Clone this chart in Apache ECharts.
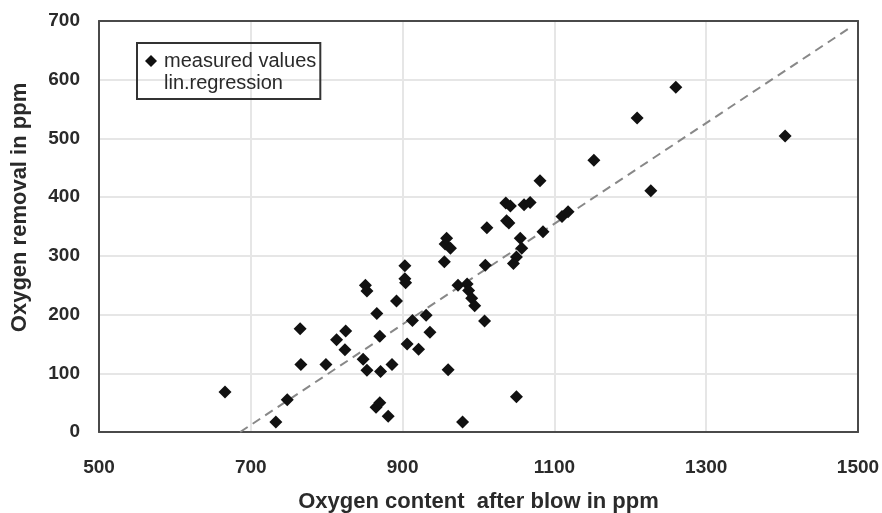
<!DOCTYPE html>
<html>
<head>
<meta charset="utf-8">
<script src="https://cdn.jsdelivr.net/npm/echarts@6/dist/echarts.min.js"></script>
<style>html,body{margin:0;padding:0;background:#fff}#c{width:882px;height:513px}</style>
</head>
<body>
<div id="c"></div>
<script>
const xName = 'Oxygen content  after blow in ppm';
const yName = 'Oxygen removal in ppm';
const seriesNames = ['measured values', 'lin.regression'];
const oxygenContent = [666,733,748,765,766,799,813,825,824,851,853,848,853,866,870,871,886,865,870,881,892,903,903,904,913,931,936,906,921,960,956,963,958,955,973,985,987,991,995,1008,979,1050,1009,1011,1036,1042,1060,1068,1037,1040,1055,1057,1050,1046,1081,1085,1110,1118,1152,1209,1260,1227,1404];
const oxygenRemoval = [68,17,55,176,115,115,157,172,140,250,240,124,105,202,163,103,115,42,50,27,223,283,261,254,190,199,170,150,141,106,320,313,330,290,250,252,241,228,215,189,17,60,284,348,390,385,387,391,360,356,330,313,298,287,428,341,367,375,463,535,587,411,504];
const regressionX = [686, 1490];
const regressionY = [0, 689];

const chart = echarts.init(document.getElementById('c'));
const font = '"Liberation Sans", Arial, sans-serif';
const textColor = '#2a2a2a';
const frameLine = {show: true, onZero: false, lineStyle: {color: '#4a4a4a', width: 2}};
chart.setOption({
  animation: false,
  backgroundColor: '#fff',
  grid: {left: 99, right: 24, top: 21, bottom: 81, containLabel: false, outerBoundsMode: 'none'},
  legend: {
    orient: 'vertical', left: 137, top: 43,
    borderColor: '#333', borderWidth: 2, padding: [8, 4, 6, 8],
    itemGap: 2, itemWidth: 12, itemHeight: 12,
    textStyle: {fontFamily: font, fontSize: 20, color: textColor, padding: [0,0,0,2]},
    data: [
      {name: seriesNames[0], icon: 'diamond', itemStyle: {color: '#111', opacity: 1}},
      {name: seriesNames[1], icon: 'none'}
    ]
  },
  xAxis: [{
    type: 'value', min: 500, max: 1500, interval: 200,
    name: xName, nameLocation: 'middle', nameGap: 59,
    nameTextStyle: {fontFamily: font, fontSize: 22, fontWeight: 'bold', color: textColor},
    axisLine: frameLine, axisTick: {show: false},
    axisLabel: {fontFamily: font, fontSize: 19, fontWeight: 'bold', color: textColor, margin: 26, formatter: v => String(v)},
    splitLine: {show: true, lineStyle: {color: '#e6e6e6', width: 2}}
  }, {
    type: 'value', position: 'top', min: 500, max: 1500, interval: 200,
    axisLine: frameLine, axisTick: {show: false}, axisLabel: {show: false}, splitLine: {show: false}
  }],
  yAxis: [{
    type: 'value', min: 0, max: 700, interval: 100,
    name: yName, nameLocation: 'middle', nameGap: 68,
    nameTextStyle: {fontFamily: font, fontSize: 22, fontWeight: 'bold', color: textColor, padding: [0, 0, 0, 38]},
    axisLine: frameLine, axisTick: {show: false},
    axisLabel: {fontFamily: font, fontSize: 19, fontWeight: 'bold', color: textColor, margin: 19},
    splitLine: {show: true, lineStyle: {color: '#e6e6e6', width: 2}}
  }, {
    type: 'value', position: 'right', min: 0, max: 700, interval: 100,
    axisLine: frameLine, axisTick: {show: false}, axisLabel: {show: false}, splitLine: {show: false}
  }],
  series: [
    {
      name: seriesNames[0], type: 'scatter', symbol: 'diamond', symbolSize: 13,
      itemStyle: {color: '#111', opacity: 1},
      data: oxygenContent.map((x, i) => [x, oxygenRemoval[i]]),
      z: 3
    },
    {
      name: seriesNames[1], type: 'line', symbol: 'none',
      lineStyle: {color: '#888', width: 2, type: [9, 6]},
      data: regressionX.map((x, i) => [x, regressionY[i]]),
      z: 2
    }
  ]
});
</script>
</body>
</html>
